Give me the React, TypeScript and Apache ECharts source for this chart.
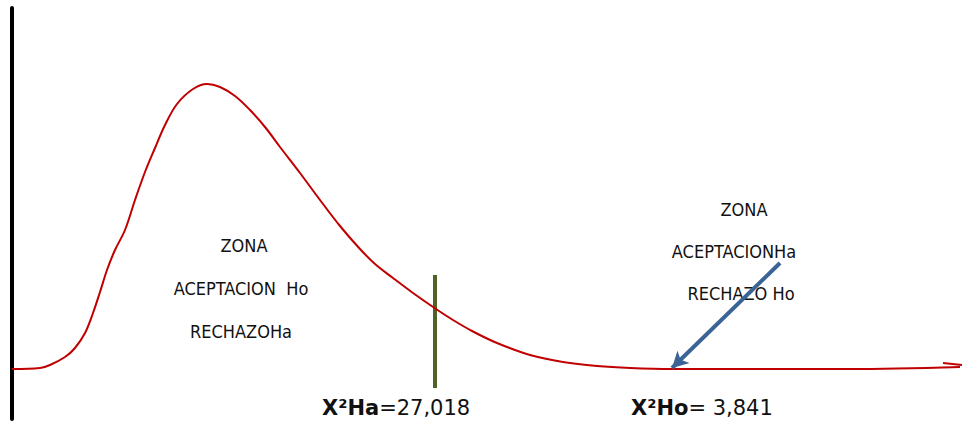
import React, { useEffect, useRef } from "react";
import * as echarts from "echarts";

// Curve (x position, height above the baseline)
const curveX = [0, 28, 38, 53, 63, 73, 81, 88, 95, 103, 113, 123, 133, 143, 153, 165, 181, 195, 208, 223, 238, 253, 268, 288, 308, 328, 348, 363, 381, 401, 424, 441, 460, 485, 518, 551, 585, 618, 660, 738, 838, 948];
const curveY = [0, 1, 4, 12, 21, 36, 56, 77, 99, 119, 139, 169, 197, 221, 244, 265, 280, 285, 282, 273, 259, 242, 222, 196, 169, 143, 120, 105, 91, 76, 60, 49, 38, 26, 14, 7, 3, 1, 0, 0, 0, 2];
const tailX = [931, 950];
const tailY = [6, 4];
const criticalX = [423, 423];
const criticalY = [94, -19];
const arrowFrom = [768, 106];
const arrowTo = [660, 1];

const leftZone = ["ZONA", "ACEPTACION  Ho", "RECHAZOHa"];
const rightZone = ["ZONA", "ACEPTACIONHa", "RECHAZO Ho"];
const labelHa = ["X²Ha", "=27,018"];
const labelHo = ["X²Ho", "= 3,841"];

export default function App() {
  const ref = useRef<HTMLDivElement>(null);
  useEffect(() => {
    if (!ref.current) return;
    const chart = echarts.init(ref.current, null, { renderer: "svg" });
    const font = "'DejaVu Sans', Verdana, sans-serif";
    const narrow = "'DejaVu Sans Condensed', 'Liberation Sans Narrow', 'DejaVu Sans', sans-serif";
    const zoneText = (t: string, x: number, y: number) => ({
      type: "text",
      x,
      y,
      style: {
        text: t,
        fontFamily: narrow,
        fontSize: 18,
        fill: "#111",
        align: "center",
        verticalAlign: "middle",
      },
    });
    const bottomText = (parts: string[], x: number) => ({
      type: "text",
      x,
      y: 408,
      style: {
        text: `{b|${parts[0]}}{r|${parts[1]}}`,
        fontFamily: font,
        fontSize: 21,
        fill: "#111",
        align: "left",
        verticalAlign: "middle",
        rich: {
          b: { fontFamily: font, fontSize: 21, fontWeight: "bold", fill: "#111" },
          r: { fontFamily: font, fontSize: 21, fill: "#111" },
        },
      },
    });
    chart.setOption({
      animation: false,
      grid: { left: 0, right: 0, top: 8, bottom: 4 },
      xAxis: {
        type: "value",
        min: -12,
        max: 950,
        axisLine: { show: false },
        axisTick: { show: false },
        axisLabel: { show: false },
        splitLine: { show: false },
      },
      yAxis: {
        type: "value",
        min: -50,
        max: 361,
        axisLine: { show: true, onZero: true, lineStyle: { color: "#000", width: 4 } },
        axisTick: { show: false },
        axisLabel: { show: false },
        splitLine: { show: false },
      },
      series: [
        {
          type: "line",
          data: curveX.map((x, i) => [x, curveY[i]]),
          smooth: 0.35,
          showSymbol: false,
          lineStyle: { color: "#C00000", width: 2 },
        },
        {
          type: "line",
          data: tailX.map((x, i) => [x, tailY[i]]),
          showSymbol: false,
          lineStyle: { color: "#C00000", width: 2 },
        },
        {
          type: "line",
          data: criticalX.map((x, i) => [x, criticalY[i]]),
          showSymbol: false,
          lineStyle: { color: "#4F6228", width: 4 },
          z: 1,
        },
        {
          type: "line",
          data: [],
          markLine: {
            silent: true,
            symbol: ["none", "arrow"],
            symbolSize: [13, 16],
            label: { show: false },
            lineStyle: { color: "#3A6396", width: 4, type: "solid" },
            data: [[{ coord: arrowFrom }, { coord: arrowTo }]],
          },
        },
      ],
      graphic: [
        zoneText(leftZone[0], 244, 245),
        zoneText(leftZone[1], 241, 288),
        zoneText(leftZone[2], 241, 331),
        zoneText(rightZone[0], 744, 209),
        zoneText(rightZone[1], 734, 251),
        zoneText(rightZone[2], 741, 293),
        bottomText(labelHa, 322),
        bottomText(labelHo, 631),
      ],
    });
    return () => chart.dispose();
  }, []);
  return (
    <div
      ref={ref}
      style={{ position: "fixed", left: 0, top: 0, width: 962, height: 423, background: "#fff" }}
    />
  );
}
